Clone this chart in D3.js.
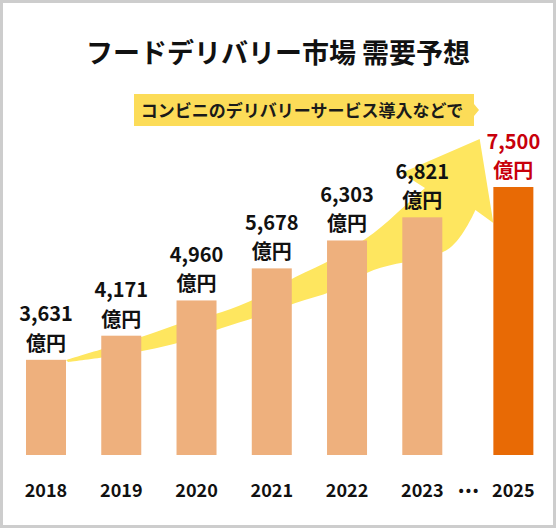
<!DOCTYPE html>
<html>
<head>
<meta charset="utf-8">
<script src="https://cdn.jsdelivr.net/npm/d3@7"></script>
<style>
  html, body { margin: 0; padding: 0; background: #fff; }
  svg { display: block; }
  text { font-family: "Noto Sans CJK JP", "Noto Sans", sans-serif; font-weight: 700; }
</style>
</head>
<body>
<svg id="chart" width="556" height="528"></svg>
<script>
// ---- data ----
const titleText = "フードデリバリー市場 需要予想";
const noteText = "コンビニのデリバリーサービス導入などで";
const years = ["2018", "2019", "2020", "2021", "2022", "2023", "2025"];
const values = [3631, 4171, 4960, 5678, 6303, 6821, 7500];
const unitLabel = "億円";
const highlightYear = "2025";
const gapMarker = "•••";

// ---- layout ----
const W = 556, H = 528;
const baseline = 455;
const svg = d3.select("#chart");

const colors = {
  bar: "#EEB07D",
  barHi: "#E86A05",
  label: "#111111",
  labelHi: "#C8000B",
  arrow: "#FEE65F",
  note: "#FCDC58",
  frame: "#CDCDCD"
};

// frame
svg.append("rect")
  .attr("x", 1.5).attr("y", 1.5)
  .attr("width", W - 3).attr("height", H - 3)
  .attr("fill", "#fff")
  .attr("stroke", colors.frame).attr("stroke-width", 3);

// scales
const mainYears = years.filter(y => y !== highlightYear);
const x = d3.scaleBand()
  .domain(mainYears)
  .range([26, 442.3])
  .paddingInner(0.4685)
  .paddingOuter(0);
const bw = x.bandwidth();
const xPos = yr => yr === highlightYear
  ? x(mainYears[mainYears.length - 1]) + x.step() * 1.21
  : x(yr);

const y = d3.scaleLinear().domain([1500, 7500]).range([baseline, 187]);

const data = years.map((yr, i) => ({ year: yr, value: values[i] }));
const fmt = d3.format(",");

// ---- decorative arrow (behind bars) ----
const x0 = x(mainYears[0]) + bw;           // right edge of first bar
const xEnd = xPos(highlightYear);          // left edge of highlighted bar
const ax = d3.scaleLinear().domain([0, 1]).range([x0, xEnd]);
const upper = [[0, 360], [0.093, 348], [0.19, 335], [0.27, 323], [0.365, 312], [0.447, 298],
               [0.537, 277], [0.624, 259], [0.72, 233], [0.79, 207], [0.84, 188]];
const head = [[0.785, 173], [0.968, 139], [1.0, 223], [0.958, 210]];
const lower = [[0.898, 248], [0.72, 270], [0.624, 291], [0.537, 303], [0.447, 317],
               [0.365, 328], [0.27, 342], [0.19, 350], [0.093, 357], [0.005, 362]];
const lineGen = d3.line().x(d => ax(d[0])).y(d => d[1]).curve(d3.curveCatmullRom.alpha(0.5));
const upperPath = lineGen(upper);
const lowerPath = lineGen([[0.958, 210]].concat(lower));
const headPath = head.map(d => "L" + ax(d[0]) + "," + d[1]).join("");
svg.append("path")
  .attr("d", upperPath + headPath + "L" + lowerPath.slice(1) + "Z")
  .attr("fill", colors.arrow);

// ---- note callout ----
const note = svg.append("g");
note.append("path")
  .attr("d", "M134,94H474V104L479,110L474,116V126H134Z")
  .attr("fill", colors.note);
note.append("text")
  .attr("x", 302).attr("y", 117)
  .attr("text-anchor", "middle")
  .attr("font-size", 17)
  .attr("fill", "#1a1a1a")
  .text(noteText);

// ---- title ----
svg.append("text")
  .attr("x", W / 2).attr("y", 63)
  .attr("text-anchor", "middle")
  .attr("font-size", 27)
  .attr("fill", "#111")
  .text(titleText);

// ---- bars ----
svg.append("g").selectAll("rect")
  .data(data)
  .join("rect")
  .attr("x", d => xPos(d.year))
  .attr("y", d => y(d.value))
  .attr("width", bw)
  .attr("height", d => baseline - y(d.value))
  .attr("fill", d => d.year === highlightYear ? colors.barHi : colors.bar);

// ---- value labels ----
const lineGap = 29.5;
const lbl = svg.append("g").selectAll("g")
  .data(data)
  .join("g")
  .attr("fill", d => d.year === highlightYear ? colors.labelHi : colors.label)
  .attr("font-size", 20)
  .attr("text-anchor", "middle");
lbl.append("text")
  .attr("x", d => xPos(d.year) + bw / 2)
  .attr("y", d => y(d.value) - 9 - lineGap)
  .text(d => fmt(d.value));
lbl.append("text")
  .attr("x", d => xPos(d.year) + bw / 2)
  .attr("y", d => y(d.value) - 9)
  .text(unitLabel);

// ---- year axis labels ----
svg.append("g").selectAll("text")
  .data(data)
  .join("text")
  .attr("x", d => xPos(d.year) + bw / 2)
  .attr("y", 496.5)
  .attr("text-anchor", "middle")
  .attr("font-size", 18)
  .attr("fill", "#111")
  .text(d => d.year);

// gap marker between 2023 and 2025
const lastMain = mainYears[mainYears.length - 1];
svg.append("text")
  .attr("x", (x(lastMain) + bw + xPos(highlightYear)) / 2 + 1.5)
  .attr("y", 494.5)
  .attr("text-anchor", "middle")
  .attr("font-family", "DejaVu Sans")
  .attr("font-size", 14)
  .attr("letter-spacing", 2)
  .attr("fill", "#111")
  .text(gapMarker);
</script>
</body>
</html>
